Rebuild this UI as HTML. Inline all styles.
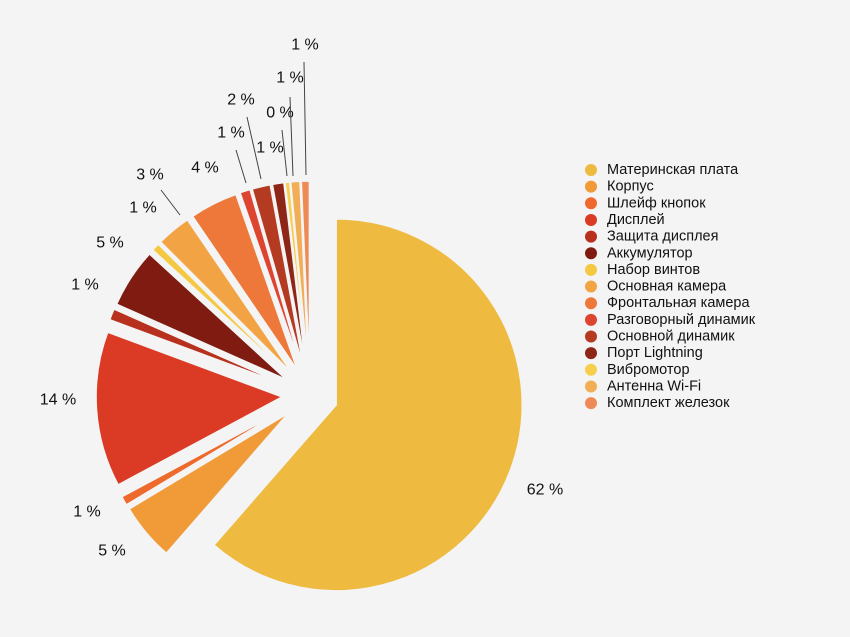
<!DOCTYPE html>
<html><head><meta charset="utf-8"><style>
body{margin:0;background:#f4f4f4;}
svg{display:block;font-family:"Liberation Sans",sans-serif;}
</style></head><body>
<svg id="chart" width="850" height="637"></svg>
<script>
const categories=["Материнская плата","Корпус","Шлейф кнопок","Дисплей","Защита дисплея","Аккумулятор","Набор винтов","Основная камера","Фронтальная камера","Разговорный динамик","Основной динамик","Порт Lightning","Вибромотор","Антенна Wi-Fi","Комплект железок"];
const values=[61.9,5,0.8,13.6,1,5.2,0.7,3,4.2,0.9,1.6,1,0.4,0.8,0.7];
const valueLabels=["62 %","5 %","1 %","14 %","1 %","5 %","1 %","3 %","4 %","1 %","2 %","1 %","0 %","1 %","1 %"];
const colors=["#EEBA40","#F09A38","#EE6A2C","#DB3A24","#B8301E","#7F1B10","#F5C842","#F2A444","#EE773A","#DD4530","#B53A22","#8E2618","#F7CF4C","#F2AE55","#EE8A55"];
// label layout (pixel positions, not data)
const labelXY=[[545,490],[112,551],[87,512],[58,400],[85,285],[110,243],[143,208],[150,175],[205,168],[231,133],[241,100],[270,148],[280,113],[290,78],[305,45]];
const leaders={7:[[161,190],[180,215]],9:[[236,150],[246,183]],10:[[247,117],[261,179]],12:[[282,130],[287,176]],13:[[290,97],[293,176]],14:[[304,62],[306,175]]};

const NS="http://www.w3.org/2000/svg";
const svg=document.getElementById('chart');
const cx=310,cy=395,R=186,D=28;
const total=values.reduce((a,b)=>a+b,0);
function pt(x,y,r,a){return [x+r*Math.sin(a),y-r*Math.cos(a)];}
let start=0;
values.forEach((v,i)=>{
  const sweep=v/total*2*Math.PI;
  const mid=start+sweep/2;
  const ox=cx+D*Math.sin(mid), oy=cy-D*Math.cos(mid);
  const p1=pt(ox,oy,R,start), p2=pt(ox,oy,R,start+sweep);
  const p=document.createElementNS(NS,'path');
  p.setAttribute('d',`M${ox},${oy}L${p1[0]},${p1[1]}A${R},${R} 0 ${sweep>Math.PI?1:0} 1 ${p2[0]},${p2[1]}Z`);
  p.setAttribute('fill',colors[i]);
  p.setAttribute('stroke','#f4f4f4');
  p.setAttribute('stroke-width','1.5');
  
  
  svg.appendChild(p);
  start+=sweep;
});
valueLabels.forEach((t,i)=>{
  if(leaders[i]){
    const l=document.createElementNS(NS,'line');
    l.setAttribute('x1',leaders[i][0][0]);l.setAttribute('y1',leaders[i][0][1]);
    l.setAttribute('x2',leaders[i][1][0]);l.setAttribute('y2',leaders[i][1][1]);
    l.setAttribute('stroke','#444');l.setAttribute('stroke-width','1');
    
    
    svg.appendChild(l);
  }
  const tx=document.createElementNS(NS,'text');
  tx.setAttribute('x',labelXY[i][0]);tx.setAttribute('y',labelXY[i][1]);
  tx.setAttribute('text-anchor','middle');tx.setAttribute('dominant-baseline','central');
  tx.setAttribute('font-size','16');tx.setAttribute('fill','#111');
  tx.textContent=t;
  
  
  svg.appendChild(tx);
});
categories.forEach((c,i)=>{
  const y=170+i*16.65;
  const g=document.createElementNS(NS,'g');
  
  
  const dot=document.createElementNS(NS,'circle');
  dot.setAttribute('cx',591);dot.setAttribute('cy',y);dot.setAttribute('r',6);
  dot.setAttribute('fill',colors[i]);
  
  
  const tx=document.createElementNS(NS,'text');
  tx.setAttribute('x',607);tx.setAttribute('y',y);
  tx.setAttribute('dominant-baseline','central');
  tx.setAttribute('font-size','14.5');tx.setAttribute('fill','#111');
  tx.textContent=c;
  
  
  g.appendChild(dot);g.appendChild(tx);svg.appendChild(g);
});
</script>
</body></html>
